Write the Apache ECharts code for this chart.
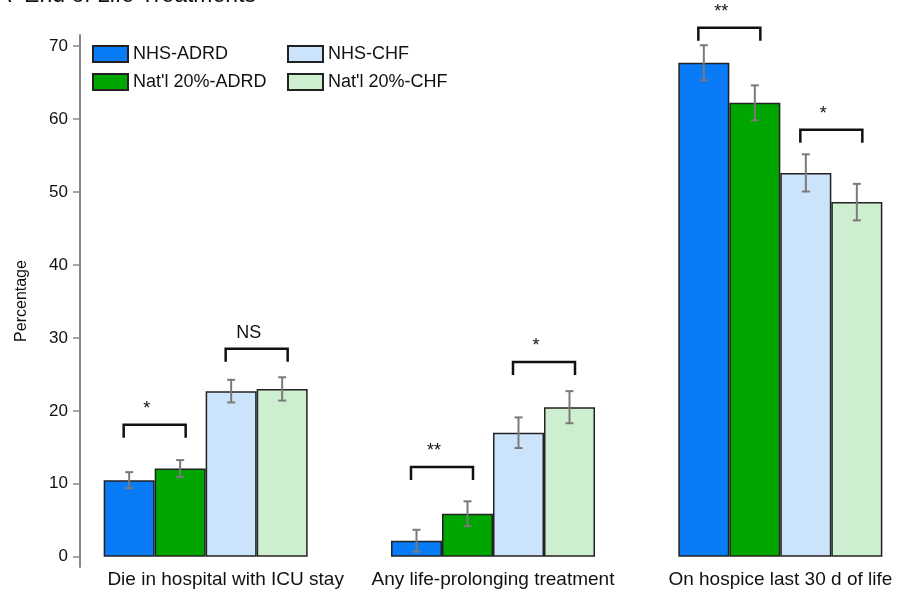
<!DOCTYPE html>
<html>
<head>
<meta charset="utf-8">
<script src="https://cdn.jsdelivr.net/npm/echarts@6/dist/echarts.min.js"></script>
<style>
html, body { margin: 0; padding: 0; background: #fff; }
#chart-container { width: 899px; height: 589px; }
</style>
</head>
<body>
<div id="chart-container"></div>
<script>
// data
const categories = ['Die in hospital with ICU stay', 'Any life-prolonging treatment', 'On hospice last 30 d of life'];
const seriesNames = ['NHS-ADRD', "Nat'l 20%-ADRD", 'NHS-CHF', "Nat'l 20%-CHF"];
const nhsAdrd = [10.5, 2.2, 67.7];
const natAdrd = [12.1, 5.9, 62.2];
const nhsChf = [22.7, 17.0, 52.6];
const natChf = [23.0, 20.5, 48.6];
const errNhsAdrd = [1.1, 1.5, 2.4];
const errNatAdrd = [1.15, 1.7, 2.4];
const errNhsChf = [1.55, 2.1, 2.55];
const errNatChf = [1.6, 2.2, 2.5];
// significance brackets: height (in %) and label
const bracketAdrd = [18.1, 12.3, 72.5];
const bracketChf = [28.5, 26.7, 58.5];
const sigAdrd = ['*', '**', '**'];
const sigChf = ['NS', '*', '*'];
const yTicks = [0, 10, 20, 30, 40, 50, 60, 70];

const colors = ['#0a7bf7', '#00a600', '#cce4fb', '#cdeecf'];
const font = "'Liberation Sans', Arial, sans-serif";
const catGap = 0.29;
// small horizontal nudges of the category labels (px)
const labelShift = [20, 0, 0];

var dom = document.getElementById('chart-container');
var myChart = echarts.init(dom, null, { renderer: 'canvas' });

const values = [nhsAdrd, natAdrd, nhsChf, natChf];
const errors = [errNhsAdrd, errNatAdrd, errNhsChf, errNatChf];

var errData = [];
for (let s = 0; s < 4; s++) {
    for (let c = 0; c < categories.length; c++) {
        errData.push([c, s, values[s][c], errors[s][c]]);
    }
}
var sigData = [];
const sigLabels = [];
for (let c = 0; c < categories.length; c++) {
    sigData.push([c, 0, bracketAdrd[c]]);
    sigData.push([c, 1, bracketChf[c]]);
    sigLabels.push(sigAdrd[c], sigChf[c]);
}

function barWidth(api) {
    return api.size([1, 0])[0] * (1 - catGap) / 4;
}

function renderError(params, api) {
    var c = api.value(0), s = api.value(1), v = api.value(2), e = api.value(3);
    var w = barWidth(api);
    var x = api.coord([c, 0])[0] + (s - 1.5) * w;
    var y1 = api.coord([c, v + e])[1];
    var y2 = api.coord([c, v - e])[1];
    var st = { stroke: '#7a7a7a', lineWidth: 2 };
    return {
        type: 'group',
        children: [
            { type: 'line', shape: { x1: x, y1: y1, x2: x, y2: y2 }, style: st },
            { type: 'line', shape: { x1: x - 4, y1: y1, x2: x + 4, y2: y1 }, style: st },
            { type: 'line', shape: { x1: x - 4, y1: y2, x2: x + 4, y2: y2 }, style: st }
        ]
    };
}

function renderSig(params, api) {
    var c = api.value(0), side = api.value(1), h = api.value(2);
    var w = barWidth(api);
    var mid = api.coord([c, 0])[0] + (side === 0 ? -1 : 1) * w;
    var y = api.coord([c, h])[1];
    var half = 31, leg = 13;
    var st = { stroke: '#111', lineWidth: 2.5, fill: null };
    return {
        type: 'group',
        children: [
            { type: 'polyline', shape: { points: [[mid - half, y + leg], [mid - half, y], [mid + half, y], [mid + half, y + leg]] }, style: st },
            { type: 'text', x: mid - 8, y: y - 7, style: { text: sigLabels[params.dataIndex], fill: '#111', font: '18px ' + font, align: 'center', verticalAlign: 'bottom' } }
        ]
    };
}

var barSeries = seriesNames.map(function (name, i) {
    return {
        name: name,
        type: 'bar',
        data: values[i],
        barGap: '0%',
        barCategoryGap: (catGap * 100) + '%',
        itemStyle: { color: colors[i], borderColor: '#222', borderWidth: 1.5 },
        emphasis: { disabled: true }
    };
});

var legendBase = {
    orient: 'vertical', top: 45,
    padding: 0,
    icon: 'rect',
    itemWidth: 35, itemHeight: 16, itemGap: 10,
    selectedMode: false,
    textStyle: { fontSize: 18, color: '#111', fontFamily: font }
};

var option = {
    animation: false,
    textStyle: { fontFamily: font },
    title: {
        text: 'A  End of Life Treatments',
        left: -4,
        top: -16,
        padding: 0,
        textStyle: { fontSize: 23, fontWeight: 'normal', color: '#111', fontFamily: font }
    },
    legend: [
        Object.assign({ data: [seriesNames[0], seriesNames[1]], left: 92 }, legendBase),
        Object.assign({ data: [seriesNames[2], seriesNames[3]], left: 287 }, legendBase)
    ],
    grid: { left: 62, top: 35, width: 862, bottom: 22, outerBoundsMode: 'none' },
    xAxis: {
        type: 'category',
        data: categories.map(function (name, i) {
            return { value: name, textStyle: { padding: [0, 0, 0, labelShift[i] * 2] } };
        }),
        axisLine: { show: false },
        axisTick: { show: false },
        axisLabel: { interval: 0, hideOverlap: false, fontSize: 19, color: '#111', margin: 3, fontFamily: font }
    },
    yAxis: {
        type: 'value',
        min: -1.4,
        max: 71.5,
        offset: -18,
        name: 'Percentage',
        nameLocation: 'middle',
        nameGap: 50,
        nameTextStyle: { fontSize: 16, color: '#111', fontFamily: font },
        splitLine: { show: false },
        axisLine: { show: true, lineStyle: { color: '#888', width: 2 } },
        axisTick: { show: true, length: 7, customValues: yTicks, lineStyle: { color: '#888', width: 1.5 } },
        axisLabel: { customValues: yTicks, fontSize: 17, color: '#111', margin: 12, fontFamily: font }
    },
    series: barSeries.concat([
        {
            type: 'custom',
            renderItem: renderError,
            data: errData,
            encode: { x: 0, y: 2 },
            clip: false,
            z: 10
        },
        {
            type: 'custom',
            renderItem: renderSig,
            data: sigData,
            encode: { x: 0, y: 2 },
            clip: false,
            z: 10
        }
    ])
};

if (option && typeof option === 'object') {
    myChart.setOption(option);
}
window.addEventListener('resize', myChart.resize);
</script>
</body>
</html>
